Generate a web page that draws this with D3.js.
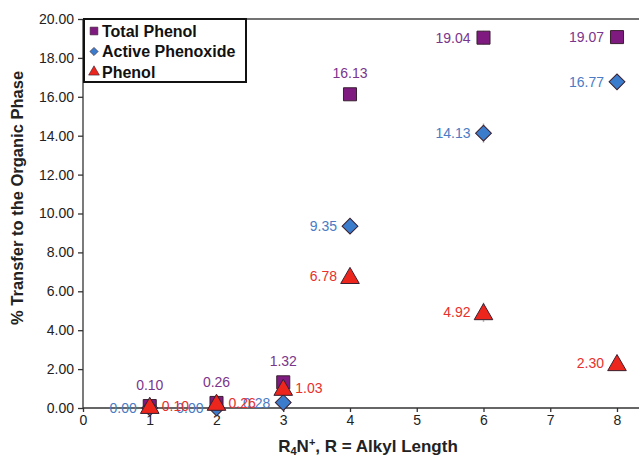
<!DOCTYPE html>
<html>
<head>
<meta charset="utf-8">
<script src="https://d3js.org/d3.v7.min.js"></script>
<style>
  body { margin: 0; background: #fff; }
  svg { display: block; font-family: "Liberation Sans", Arial, sans-serif; }
  .tick text { font-size: 14px; fill: #222; }
  .axis path, .axis line { stroke: #333; stroke-width: 1.3; }
</style>
</head>
<body>
<script>
// alkyl length R in R4N+
var alkyl = [1, 2, 3, 4, 6, 8];
var totalPhenol = [0.10, 0.26, 1.32, 16.13, 19.04, 19.07];
var activePhenoxide = [0.00, 0.00, 0.28, 9.35, 14.13, 16.77];
var phenol = [0.10, 0.26, 1.03, 6.78, 4.92, 2.30];
// small error bars
var totalErr = [0, 0, 0, 0, 0.35, 0.2];
var activeErr = [0, 0, 0, 0, 0.5, 0.2];
var phenolErr = [0, 0, 0, 0, 0.5, 0.2];
// where each value label sits relative to its marker
var totalPos = ["top", "top", "top", "top", "left", "left"];
var activePos = ["left", "left", "left", "left", "left", "left"];
var phenolPos = ["right", "right", "right", "left", "left", "left"];

var xTicks = [0, 1, 2, 3, 4, 5, 6, 7, 8];
var yTicks = [0, 2, 4, 6, 8, 10, 12, 14, 16, 18, 20];

var W = 639, H = 457;
var svg = d3.select("body").append("svg").attr("width", W).attr("height", H);

var x = d3.scaleLinear().domain([0, 8]).range([83, 617]);
var y = d3.scaleLinear().domain([0, 20]).range([408, 19]);

// y axis
svg.append("g").attr("class", "axis")
  .attr("transform", "translate(83,0)")
  .call(d3.axisLeft(y).tickValues(yTicks).tickFormat(d3.format(".2f")).tickSizeOuter(0).tickSize(5).tickPadding(4))
  .call(function (g) { g.select(".domain").attr("d", "M0," + y(20) + "V" + y(0)); });

// x axis
svg.append("g").attr("class", "axis")
  .attr("transform", "translate(0," + y(0) + ")")
  .call(d3.axisBottom(x).tickValues(xTicks).tickFormat(d3.format("d")).tickSizeOuter(0).tickSize(4).tickPadding(3))
  .call(function (g) { g.select(".domain").attr("d", "M" + x(0) + ",0H" + W); });

// top frame line
svg.append("line").attr("x1", x(0)).attr("x2", W).attr("y1", y(20)).attr("y2", y(20))
  .attr("stroke", "#444").attr("stroke-width", 1.5);

// axis titles
svg.append("text")
  .attr("transform", "translate(23," + y(10.8) + ") rotate(-90)")
  .attr("text-anchor", "middle").attr("font-size", 16.5).attr("font-weight", "bold").attr("fill", "#222")
  .text("% Transfer to the Organic Phase");

var xt = svg.append("text").attr("x", x(4.27)).attr("y", 452)
  .attr("text-anchor", "middle").attr("font-size", 17).attr("font-weight", "bold").attr("fill", "#222");
xt.append("tspan").text("R");
xt.append("tspan").attr("font-size", 11).attr("dy", 3).text("4");
xt.append("tspan").attr("dy", -3).text("N");
xt.append("tspan").attr("font-size", 11).attr("dy", -6).text("+");
xt.append("tspan").attr("dy", 6).text(", R = Alkyl Length");

// rot: diamonds are squares turned by 45 degrees
var series = [
  { name: "Total Phenol", vals: totalPhenol, err: totalErr, pos: totalPos, shape: d3.symbolSquare, rot: 0, size: 170, legSize: 60,
    fill: "#7e1a80", text: "#7a358c" },
  { name: "Active Phenoxide", vals: activePhenoxide, err: activeErr, pos: activePos, shape: d3.symbolSquare, rot: 45, size: 125, legSize: 34,
    fill: "#3b7ccc", text: "#4a7bc4" },
  { name: "Phenol", vals: phenol, err: phenolErr, pos: phenolPos, shape: d3.symbolTriangle, rot: 0, size: 150, legSize: 50,
    fill: "#ec251d", text: "#e8302c" }
];

var plot = svg.append("g");

series.forEach(function (s) {
  var pts = alkyl.map(function (a, i) { return { x: a, v: s.vals[i], e: s.err[i], pos: s.pos[i] }; });
  // error bars
  plot.selectAll(null).data(pts.filter(function (d) { return d.e > 0; })).enter().append("line")
    .attr("x1", function (d) { return x(d.x); }).attr("x2", function (d) { return x(d.x); })
    .attr("y1", function (d) { return y(d.v + d.e); }).attr("y2", function (d) { return y(d.v - d.e); })
    .attr("stroke", "#bbb").attr("stroke-width", 1.5);
  plot.selectAll(null).data(pts).enter().append("path")
    .attr("transform", function (d) {
      var dy = s.shape === d3.symbolTriangle ? 2 : 0;
      return "translate(" + x(d.x) + "," + (y(d.v) + dy) + ") rotate(" + s.rot + ")";
    })
    .attr("d", d3.symbol().type(s.shape).size(s.size))
    .attr("fill", s.fill).attr("stroke", "#3a2030").attr("stroke-width", 1);
});

// value labels drawn after all markers
series.forEach(function (s) {
  var pts = alkyl.map(function (a, i) { return { x: a, v: s.vals[i], pos: s.pos[i] }; });
  plot.selectAll(null).data(pts).enter().append("text")
    .attr("x", function (d) {
      if (d.pos === "left") return x(d.x) - 13;
      if (d.pos === "right") return x(d.x) + 12;
      return x(d.x);
    })
    .attr("y", function (d) { return d.pos === "top" ? y(d.v) - 16 : y(d.v) + 5; })
    .attr("text-anchor", function (d) { return d.pos === "left" ? "end" : d.pos === "right" ? "start" : "middle"; })
    .attr("font-size", 14).attr("fill", s.text)
    .text(function (d) { return d3.format(".2f")(d.v); });
});

// legend
var leg = svg.append("g");
leg.append("rect").attr("x", 84).attr("y", 19).attr("width", 162).attr("height", 63)
  .attr("fill", "#fff").attr("stroke", "#111").attr("stroke-width", 2);
series.forEach(function (s, i) {
  var ly = 31 + i * 20.5;
  leg.append("path").attr("transform", "translate(94," + ly + ") rotate(" + s.rot + ")")
    .attr("d", d3.symbol().type(s.shape).size(s.legSize))
    .attr("fill", s.fill).attr("stroke", "#3a2030").attr("stroke-width", 0.6);
  leg.append("text").attr("x", 102).attr("y", ly + 5.5)
    .attr("font-size", 16).attr("font-weight", "bold").attr("fill", "#111").text(s.name);
});
</script>
</body>
</html>
